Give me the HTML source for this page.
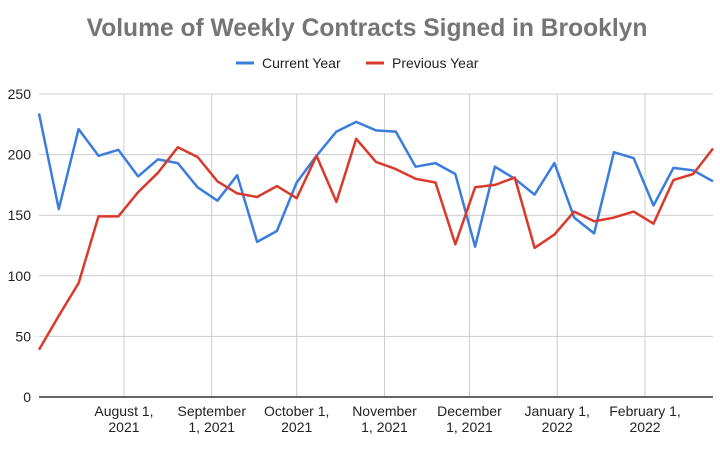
<!DOCTYPE html>
<html><head><meta charset="utf-8">
<style>
body{margin:0;background:#fff;width:720px;height:446px;overflow:hidden;font-family:"Liberation Sans",Arial,sans-serif;}
</style></head>
<body>
<svg id="chart" width="720" height="446" xmlns="http://www.w3.org/2000/svg"></svg>
<script>
const yTicks=[0,50,100,150,200,250];
const xTickLabels=[["August 1,","2021"],["September","1, 2021"],["October 1,","2021"],["November","1, 2021"],["December","1, 2021"],["January 1,","2022"],["February 1,","2022"]];
const xTickDays=[30,61,91,122,152,183,214];
const currentYear=[234,155,221,199,204,182,196,193,173,162,183,128,137,177,199,219,227,220,219,190,193,184,124,190,180,167,193,148,135,202,197,158,189,187,178];
const previousYear=[39,67,94,149,149,169,185,206,198,178,168,165,174,164,199,161,213,194,188,180,177,126,173,175,181,123,134,153,145,148,153,143,179,184,205];

const svg=document.getElementById('chart');
const NS='http://www.w3.org/2000/svg';
const X0=39,X1=713,Y0=397,Y1=94,maxDay=(currentYear.length-1)*7;
function xs(d){return X0+(X1-X0)*d/maxDay;}
function ys(v){return Y0-(Y0-Y1)*v/250;}
function mk(tag,attrs,txt){const e=document.createElementNS(NS,tag);for(const k in attrs)e.setAttribute(k,attrs[k]);if(txt!=null)e.textContent=txt;svg.appendChild(e);return e;}

let t=mk('text',{x:367,y:36,'text-anchor':'middle','font-size':'24.6','font-weight':'bold',fill:'#757575'},'Volume of Weekly Contracts Signed in Brooklyn');



// legend
let l1=mk('line',{x1:236,y1:63,x2:254,y2:63,stroke:'#3b7ddd','stroke-width':3});


let lt1=mk('text',{x:262,y:68,'font-size':'14',fill:'#222'},'Current Year');


let l2=mk('line',{x1:366,y1:63,x2:384,y2:63,stroke:'#d93a2b','stroke-width':3});


let lt2=mk('text',{x:392,y:68,'font-size':'14',fill:'#222'},'Previous Year');



yTicks.forEach(v=>{
  if(v>0){let g=mk('line',{x1:X0,x2:X1,y1:ys(v),y2:ys(v),stroke:'#cccccc','stroke-width':1});
  
  }
  let tx=mk('text',{x:31,y:ys(v)+5,'text-anchor':'end','font-size':'14',fill:'#222'},String(v));
  
  
});
xTickDays.forEach((d,i)=>{
  let g=mk('line',{x1:xs(d),x2:xs(d),y1:Y1,y2:Y0,stroke:'#cccccc','stroke-width':1});
  
  
  let tx=mk('text',{x:xs(d),y:416,'text-anchor':'middle','font-size':'14',fill:'#222'});
  
  
  xTickLabels[i].forEach((s,j)=>{const ts=document.createElementNS(NS,'tspan');ts.setAttribute('x',xs(d));ts.setAttribute('dy',j?16:0);ts.textContent=s;tx.appendChild(ts);});
});
let ax=mk('line',{x1:X0,x2:X1,y1:Y0,y2:Y0,stroke:'#333','stroke-width':1.5});



function series(vals,color,name){
  const pts=vals.map((v,i)=>xs(i*7).toFixed(1)+','+ys(v).toFixed(1)).join(' ');
  const p=mk('polyline',{points:pts,fill:'none',stroke:color,'stroke-width':2.5,'stroke-linejoin':'round'});
  
  
}
series(currentYear,'#3b7ddd','current-year-line');
series(previousYear,'#d93a2b','previous-year-line');
</script>
</body></html>
